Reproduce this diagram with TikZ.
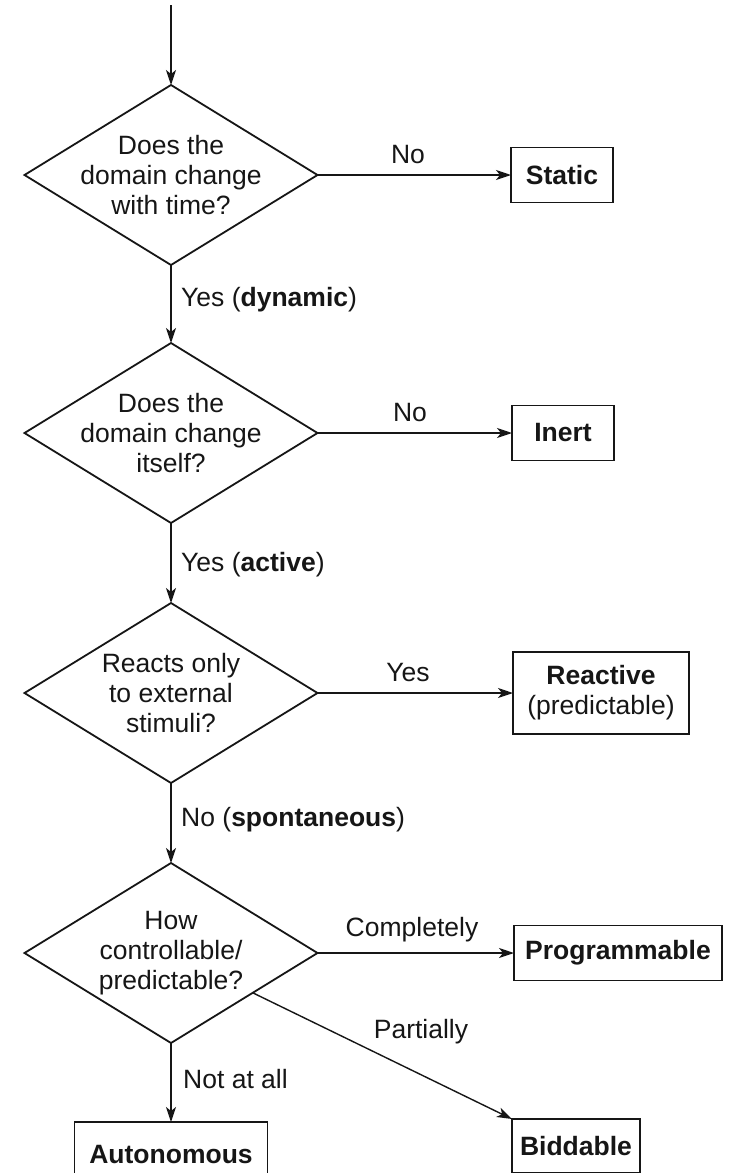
\documentclass[tikz,border=0pt]{standalone}
\usepackage{fontspec}
\setmainfont{Liberation Sans}
\usetikzlibrary{shapes.geometric,arrows.meta}
\definecolor{ink}{HTML}{161616}
\begin{document}
\begin{tikzpicture}[x=1pt,y=-1pt,
  font=\fontsize{26.5}{30}\selectfont, color=ink,
  question/.style={draw, shape=diamond, minimum width=293pt, minimum height=180pt,
    inner sep=0pt, outer sep=0pt, line width=1.8pt},
  qtext/.style={align=center, inner sep=0pt, font=\fontsize{26.5}{30}\selectfont},
  outcome/.style={draw, rectangle, line width=1.8pt, inner sep=0pt, outer sep=0pt,
    align=center, font=\fontsize{26.5}{30}\selectfont\bfseries},
  lbl/.style={inner sep=0pt, font=\fontsize{26.5}{30}\selectfont},
  flow/.style={line width=1.4pt, -{Stealth[length=15pt,width=10pt,inset=4pt]}}]
\useasboundingbox (0,0) rectangle (730,1173);
\fill[white] (0,0) rectangle (730,1173);
\clip (0,0) rectangle (730,1173);

% entry point
\coordinate (entry) at (171,5);

% decisions
\node[question, label={[qtext]center:{Does the\\domain change\\with time?}}] (d1) at (171,175) {};
\node[question, label={[qtext]center:{Does the\\domain change\\itself?}}] (d2) at (171,433) {};
\node[question, label={[qtext]center:{Reacts only\\to external\\stimuli?}}] (d3) at (171,693) {};
\node[question, label={[qtext]center:{How\\controllable/\\predictable?}}] (d4) at (171,953) {};

% outcomes
\node[outcome, minimum width=102pt, minimum height=55pt] (static) at (562,175) {Static};
\node[outcome, minimum width=102pt, minimum height=55pt] (inert) at (563,433) {Inert};
\node[outcome, minimum width=176pt, minimum height=82pt] (reactive) at (601,693)
  {Reactive\\\mdseries(predictable)};
\node[outcome, minimum width=208pt, minimum height=55pt] (prog) at (618,953) {Programmable};
\node[outcome, minimum width=193pt, minimum height=64pt] (auto) at (171,1154) {Autonomous};
\node[outcome, minimum width=128pt, minimum height=54pt] (bid) at (576,1146) {Biddable};

% connectors
\draw[flow] (entry) -- (d1.north);
\draw[flow] (d1.east) -- (static.west);
\draw[flow] (d1.south) -- (d2.north);
\draw[flow] (d2.east) -- (inert.west);
\draw[flow] (d2.south) -- (d3.north);
\draw[flow] (d3.east) -- (reactive.west);
\draw[flow] (d3.south) -- (d4.north);
\draw[flow] (d4.east) -- (prog.west);
\draw[flow] (d4.south) -- (auto.north);
\draw[flow] (d4) -- (bid.north west);

% connector labels
\node[lbl] (l1) at (408,155) {No};
\node[lbl, anchor=west] (l2) at (181,300) {Yes (\textbf{dynamic})};
\node[lbl] (l3) at (410,413) {No};
\node[lbl, anchor=west] (l4) at (181,565) {Yes (\textbf{active})};
\node[lbl] (l5) at (408,673) {Yes};
\node[lbl, anchor=west] (l6) at (181,820) {No (\textbf{spontaneous})};
\node[lbl] (l7) at (412,930) {Completely};
\node[lbl] (l8) at (421,1032) {Partially};
\node[lbl, anchor=west] (l9) at (183,1079) {Not at all};
\end{tikzpicture}
\end{document}
